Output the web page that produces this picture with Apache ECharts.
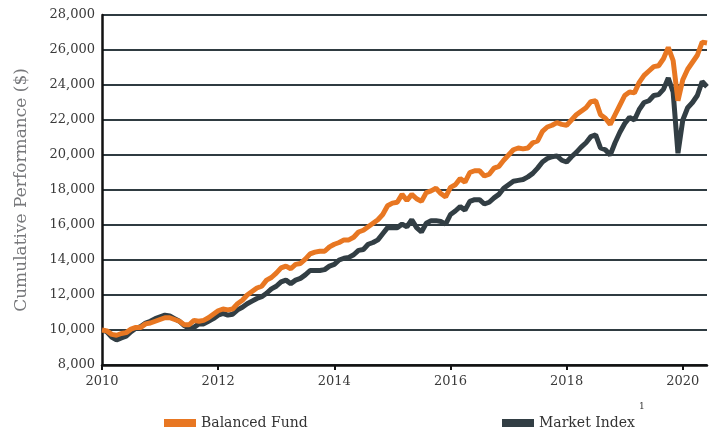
<!DOCTYPE html>
<html>
<head>
<meta charset="utf-8">
<script src="https://cdn.jsdelivr.net/npm/echarts@6/dist/echarts.min.js"></script>
<style>
    html, body { margin: 0; padding: 0; background: #fff; }
    #chart { width: 715px; height: 430px; }
</style>
</head>
<body>
<div id="chart"></div>
<script>
    // monthly values, Jan 2010 .. Jun 2020
    var start_year = 2010;
    var balanced_fund = [
        10000, 9950, 9750, 9700, 9800, 9850, 10050, 10150, 10150, 10350, 10400, 10500,
        10600, 10700, 10700, 10600, 10500, 10300, 10300, 10550, 10500, 10550, 10700, 10900,
        11100, 11200, 11150, 11200, 11500, 11700, 12000, 12200, 12400, 12500, 12850, 13000,
        13250, 13550, 13650, 13500, 13750, 13800, 14050, 14350, 14450, 14500, 14500, 14750,
        14900, 15000, 15150, 15150, 15300, 15600, 15700, 15900, 16100, 16300, 16600, 17100,
        17250, 17300, 17750, 17400, 17750, 17500, 17350, 17850, 17950, 18100, 17800, 17600,
        18150, 18300, 18650, 18450, 19000, 19100, 19100, 18800, 18900, 19250, 19350, 19700,
        20000, 20300, 20400, 20350, 20400, 20700, 20800, 21350, 21600, 21700, 21850, 21750,
        21700, 22000, 22300, 22500, 22700, 23050, 23100, 22300, 22100, 21750, 22300, 22850,
        23400, 23600, 23550, 24150, 24550, 24800, 25050, 25100, 25500, 26150, 25400, 23100,
        24300, 24900, 25300, 25700, 26450, 26400
    ];
    var market_index = [
        10000, 9900, 9600, 9430, 9550, 9650, 9900, 10100, 10200, 10400, 10500, 10650,
        10750, 10850, 10800, 10650, 10500, 10250, 10100, 10150, 10350, 10350, 10500, 10650,
        10850, 10950, 10850, 10900, 11150, 11300, 11500, 11650, 11800, 11900, 12100, 12350,
        12500, 12750, 12850, 12650, 12850, 12950, 13150, 13400, 13400, 13400, 13450, 13650,
        13750, 14000, 14100, 14150, 14300, 14550, 14600, 14900, 15000, 15150, 15500, 15850,
        15850, 15850, 16050, 15900, 16300, 15850, 15600, 16100, 16250, 16250, 16200, 16050,
        16600, 16800, 17050, 16850, 17350, 17450, 17450, 17200, 17300, 17550, 17750, 18100,
        18300, 18500, 18550, 18600, 18750, 18950, 19250, 19600, 19800, 19900, 19950, 19700,
        19600, 19900, 20150, 20450, 20700, 21050, 21150, 20400, 20300, 20000, 20700, 21300,
        21800, 22150, 22000, 22600, 23000, 23100, 23400, 23450, 23750, 24400, 23600, 20100,
        22000, 22700, 23000, 23400, 24200, 23900
    ];
    var y_ticks = { min: 8000, max: 28000, step: 2000 };
    var x_ticks = { min: 2010, step: 2 };

    var orange = '#e87722';
    var slate = '#323e44';
    var font = '"DejaVu Serif", "Liberation Serif", serif';

    function to_pairs(arr){
        var out = [];
        for(var i = 0; i < arr.length; i++){
            out.push([start_year + i / 12, arr[i]]);
        }
        return out;
    }
    var x_max = start_year + (balanced_fund.length - 1) / 12;

    var legend_base = {
        top: 411,
        icon: 'rect', itemWidth: 32, itemHeight: 8, itemGap: 9,
        textStyle: { fontFamily: font, fontSize: 14, color: '#333' }
    };

    var chart = echarts.init(document.getElementById('chart'), null, {renderer: 'canvas'});
    chart.setOption({
        animation: false,
        grid: { left: 102, right: 8, top: 15, bottom: 65 },
        legend: [
            echarts.util.extend({ data: ['Balanced Fund'], left: 159 }, legend_base),
            echarts.util.extend({ data: ['Market Index'], left: 497 }, legend_base)
        ],
        graphic: [
            {//footnote marker next to the legend
                type: 'text',
                left: 639, top: 402,
                style: { text: '1', fontFamily: font, fontSize: 9, fill: '#333' }
            }
        ],
        xAxis: {
            type: 'value',
            min: x_ticks.min,
            max: x_max,
            interval: x_ticks.step,
            axisLine: { lineStyle: { color: '#111', width: 2.5 } },
            axisTick: { show: true, length: 5, lineStyle: { color: '#111', width: 2 } },
            axisLabel: {
                showMaxLabel: false,
                margin: 10,
                fontFamily: font, fontSize: 13, color: '#3a3a3a',
                formatter: function(v){ return String(Math.round(v)); }
            },
            splitLine: { show: false }
        },
        yAxis: {
            type: 'value',
            min: y_ticks.min,
            max: y_ticks.max,
            interval: y_ticks.step,
            name: 'Cumulative Performance ($)',
            nameLocation: 'middle',
            nameGap: 72,
            nameTextStyle: { fontFamily: font, fontSize: 17, color: '#77787b' },
            axisLine: { show: true, lineStyle: { color: '#111', width: 2.5 } },
            axisTick: { show: false },
            axisLabel: {
                margin: 7,
                fontFamily: font, fontSize: 13, color: '#3a3a3a',
                formatter: function(v){ return v.toLocaleString('en-US'); }
            },
            splitLine: { show: true, lineStyle: { color: '#2f3b41', width: 2 } }
        },
        series: [
            {
                name: 'Market Index',
                type: 'line',
                data: to_pairs(market_index),
                showSymbol: false,
                itemStyle: { color: slate },
                lineStyle: { color: slate, width: 5 }
            },
            {
                name: 'Balanced Fund',
                type: 'line',
                data: to_pairs(balanced_fund),
                showSymbol: false,
                itemStyle: { color: orange },
                lineStyle: { color: orange, width: 5 }
            }
        ]
    });
</script>
</body>
</html>
